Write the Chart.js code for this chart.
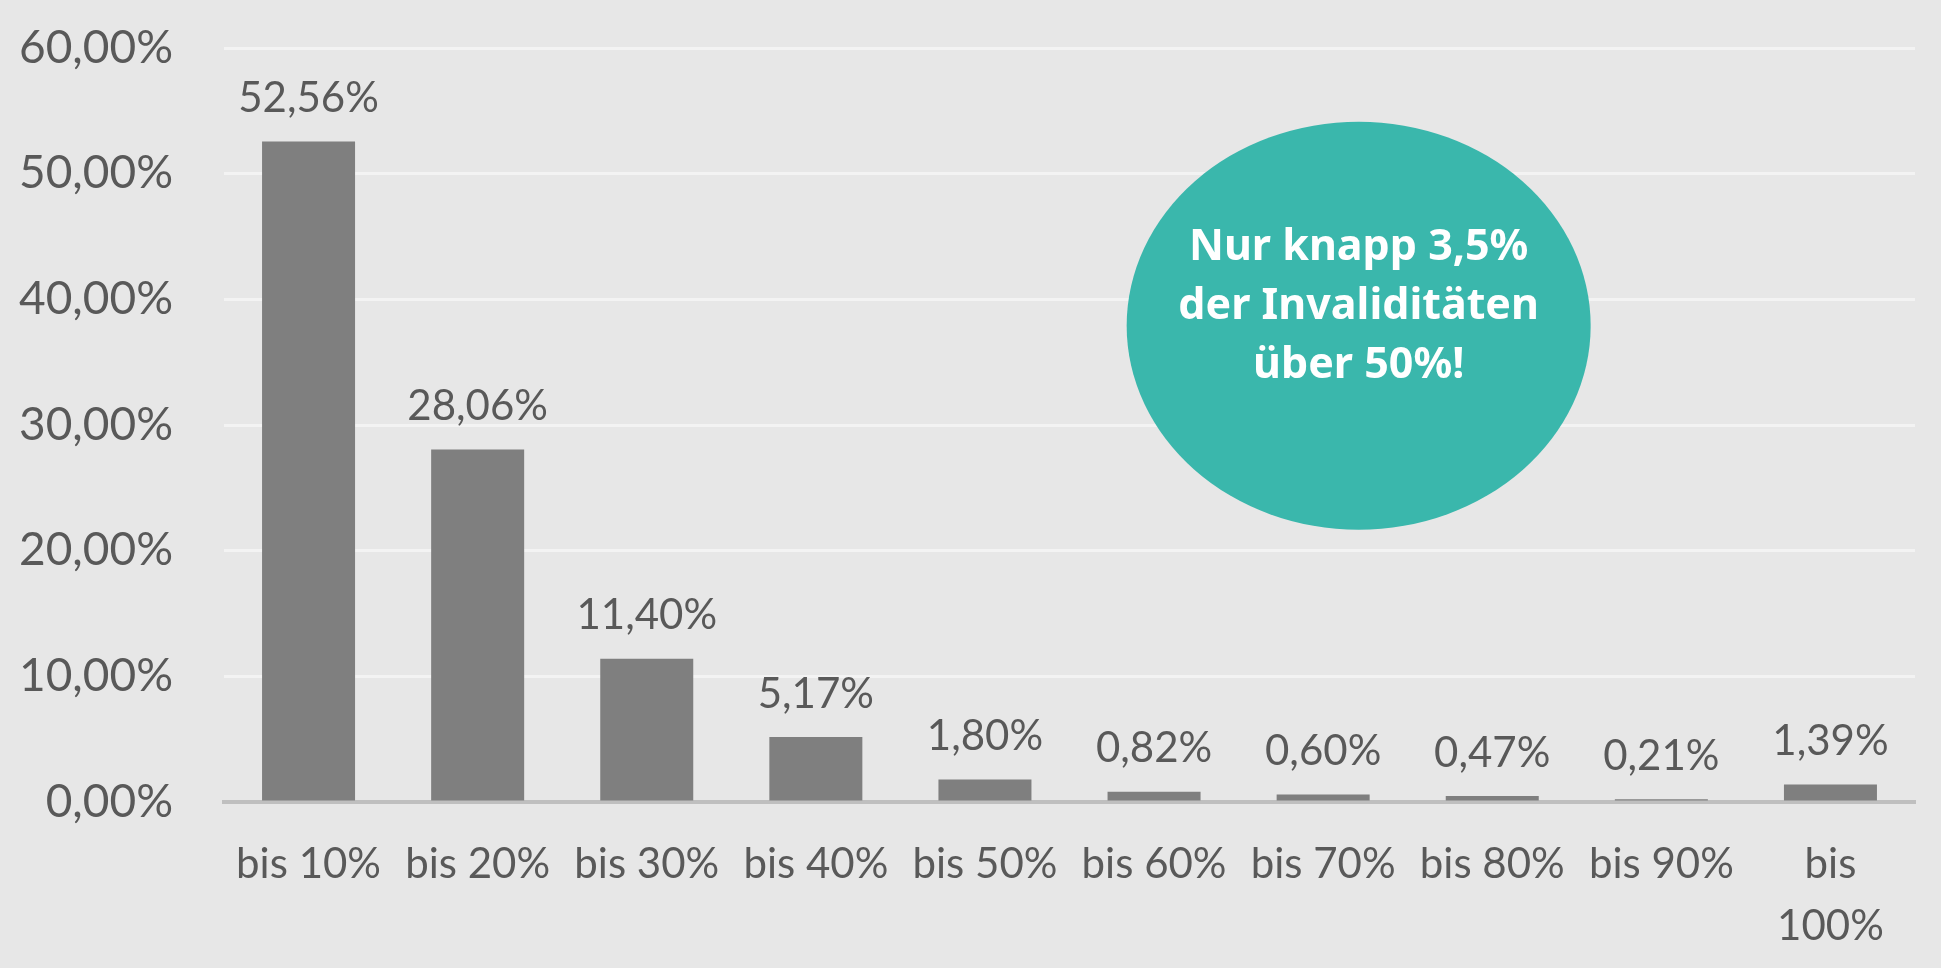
<!DOCTYPE html>
<html lang="de">
<head>
<meta charset="utf-8">
<title>Invaliditätsgrade</title>
<script src="https://cdn.jsdelivr.net/npm/chart.js@4"></script>
<style>
  html, body { margin: 0; padding: 0; background: #e7e7e7; }
  #wrap { width: 1941px; height: 968px; position: relative; }
</style>
</head>
<body>
<div id="wrap"><canvas id="grafik"></canvas></div>
<script>
// Daten aus der Vorlage
const kategorien = ["bis 10%", "bis 20%", "bis 30%", "bis 40%", "bis 50%", "bis 60%", "bis 70%", "bis 80%", "bis 90%", ["bis", "100%"]];
const anteile = [52.56, 28.06, 11.40, 5.17, 1.80, 0.82, 0.60, 0.47, 0.21, 1.39];
const hinweisZeilen = ["Nur knapp 3,5%", "der Invaliditäten", "über 50%!"];

const textFarbe = "#595959";
const prozent = (v) => v.toFixed(2).replace(".", ",") + "%";

// Werte über den Balken schreiben
const wertePlugin = {
  id: "werte",
  afterDatasetsDraw(chart) {
    const ctx = chart.ctx;
    const meta = chart.getDatasetMeta(0);
    ctx.save();
    ctx.font = "42px Lato";
    ctx.fillStyle = textFarbe;
    ctx.textAlign = "center";
    ctx.textBaseline = "middle";
    meta.data.forEach((bar, i) => {
      ctx.fillText(prozent(anteile[i]), bar.x, bar.y - 43);
    });
    ctx.restore();
  },
};

// Türkise Blase mit Hinweis
const blasePlugin = {
  id: "blase",
  afterDraw(chart) {
    const ctx = chart.ctx;
    const x = chart.scales.x.getPixelForValue(6.21);
    const y = chart.scales.y.getPixelForValue(37.9);
    ctx.save();
    ctx.fillStyle = "#3ab7ac";
    ctx.beginPath();
    ctx.ellipse(x, y, 232, 204, 0, 0, Math.PI * 2);
    ctx.fill();
    ctx.fillStyle = "#ffffff";
    ctx.font = "bold 43px 'Noto Sans'";
    ctx.textAlign = "center";
    ctx.textBaseline = "middle";
    hinweisZeilen.forEach((zeile, i) => {
      ctx.fillText(zeile, x, y - 78 + i * 59);
    });
    ctx.restore();
  },
};

new Chart(document.getElementById("grafik"), {
  type: "bar",
  data: {
    labels: kategorien,
    datasets: [
      {
        data: anteile,
        backgroundColor: "#7f7f7f",
        barPercentage: 0.55,
        categoryPercentage: 1.0,
      },
    ],
  },
  options: {
    responsive: true,
    maintainAspectRatio: false,
    animation: false,
    layout: { padding: { top: 48, right: 26, left: 0, bottom: 0 } },
    scales: {
      x: {
        grid: { display: false, drawTicks: false },
        border: { color: "#bfbfbf", width: 4 },
        ticks: {
          color: textFarbe,
          font: { family: "Lato", size: 42, lineHeight: 1.48 },
          padding: 31,
          maxRotation: 0,
          autoSkip: false,
        },
        afterFit(scale) {
          scale.height = 166;
          scale.paddingLeft = 0;
          scale.paddingRight = 0;
        },
      },
      y: {
        min: 0,
        max: 60,
        grid: {
          drawTicks: false,
          lineWidth: 3,
          color: (c) => (c.tick && c.tick.value === 0 ? "rgba(0,0,0,0)" : "#f3f3f3"),
        },
        border: { display: false },
        ticks: {
          stepSize: 10,
          color: textFarbe,
          font: { family: "Lato", size: 46 },
          padding: 51,
          callback: (v) => prozent(v),
        },
        afterFit(scale) {
          scale.width = 224;
          scale.paddingTop = 0;
          scale.paddingBottom = 0;
        },
      },
    },
    plugins: {
      legend: { display: false },
      tooltip: { enabled: false },
    },
  },
  plugins: [wertePlugin, blasePlugin],
});
</script>
</body>
</html>
